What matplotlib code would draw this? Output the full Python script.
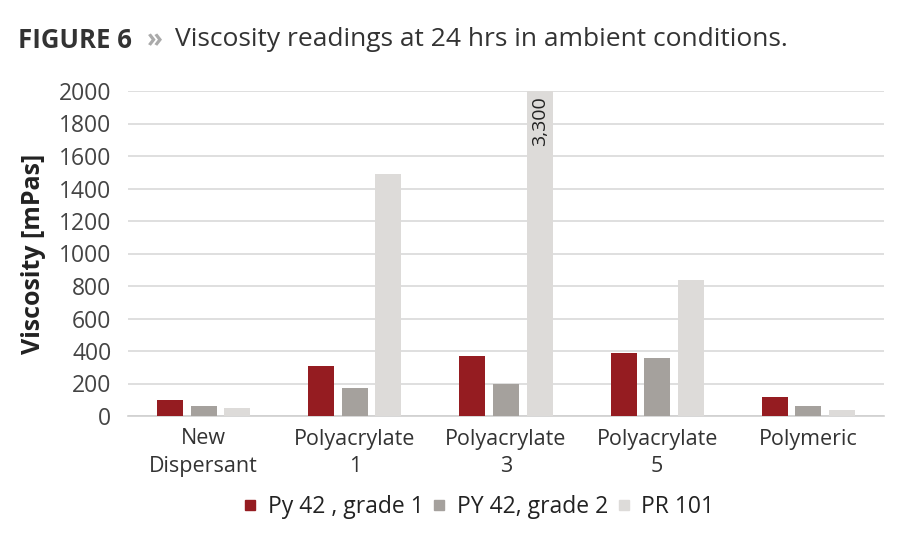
import matplotlib
matplotlib.use("Agg")
import matplotlib.pyplot as plt
from matplotlib.lines import Line2D
import numpy as np

categories = ["New\nDispersant", "Polyacrylate\n1", "Polyacrylate\n3", "Polyacrylate\n5", "Polymeric"]
series_names = ["Py 42 , grade 1", "PY 42, grade 2", "PR 101"]
py42_g1 = [100, 310, 370, 390, 120]
py42_g2 = [60, 170, 200, 355, 60]
pr101 = [50, 1490, 3300, 835, 40]
colors = ["#951c21", "#a5a19d", "#dddbd9"]
yticks = list(range(0, 2001, 200))

plt.rcParams['font.family'] = ['Open Sans', 'DejaVu Sans']

fig = plt.figure(figsize=(9, 5.5), dpi=100)
ax = fig.add_axes([128/900, 1-416/550, 756/900, 325/550])

x = np.arange(len(categories))
w = 0.172
step = 0.222
for i, (vals, c, name) in enumerate(zip([py42_g1, py42_g2, pr101], colors, series_names)):
    ax.bar(x + (i-1)*step, vals, width=w, color=c, label=name, zorder=3)

# label for clipped bar
idx = int(np.argmax(pr101))
ax.text(x[idx] + step, 1965, f"{pr101[idx]:,}", rotation=90, ha='center', va='top',
        fontsize=14, color='#222222', zorder=4)

ax.set_ylim(0, 2000)
ax.set_xlim(-0.5, len(categories)-0.5)
ax.set_yticks(yticks)
ax.set_yticklabels([str(t) for t in yticks], fontsize=16.5, color='#444444')
ax.set_xticks(x)
ax.set_xticklabels(categories, fontsize=15.5, color='#333333', linespacing=1.4)
ax.tick_params(axis='x', length=0, pad=9)
ax.tick_params(axis='y', length=0, pad=12)
ax.yaxis.grid(True, color='#d9d9d9', linewidth=1.2, zorder=0)
for s in ['top', 'right', 'left']:
    ax.spines[s].set_visible(False)
ax.spines['bottom'].set_color('#d0d0d0')
ax.spines['bottom'].set_linewidth(1.2)

ax.set_ylabel("Viscosity [mPas]", fontsize=18, fontweight='bold', color='#222222', labelpad=9)

fig.text(18/900, 1-40/550, "FIGURE 6", fontsize=18.5, fontweight='bold', color='#333333', va='center', ha='left')
fig.text(147/900, 1-40/550, "»", fontsize=18.5, fontweight='bold', color='#aaaaaa', va='center', ha='left')
fig.text(175/900, 1-40/550, "Viscosity readings at 24 hrs in ambient conditions.", fontsize=19,
         color='#333333', va='center', ha='left')

handles = [Line2D([], [], linestyle='none', marker='s', markersize=6.5, markerfacecolor=c,
                  markeredgecolor=c) for c in colors]
fig.legend(handles, series_names, loc='center', bbox_to_anchor=(480/900, 1-507/550), ncol=3,
           frameon=False, fontsize=16.5, handlelength=0.4, handletextpad=0.55,
           columnspacing=0.5, labelcolor='#222222')

fig.savefig("out.png", dpi=100, facecolor='white')
